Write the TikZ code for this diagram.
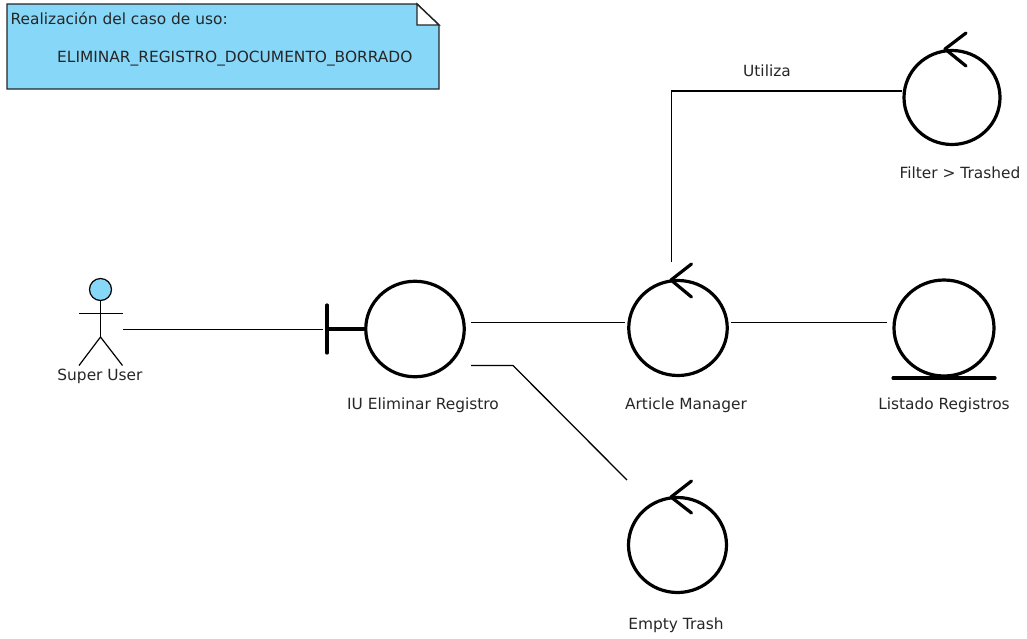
\documentclass[tikz,border=0pt]{standalone}
\usepackage{fontspec}
\usetikzlibrary{shapes.geometric}
\setmainfont{DejaVu Sans}
\definecolor{fillblue}{RGB}{135,215,248}
\tikzset{
  robust/.style n args={2}{ellipse,draw=black,line width=3.2pt,minimum width=#1,minimum height=#2,inner sep=0pt,fill=white},
  glyphline/.style={draw=black,line width=3.2pt,line cap=round},
  conn/.style={draw=black,line width=1.3pt},
  lbl/.style={font=\fontsize{15.4}{18}\selectfont,text=black!85,inner sep=0pt},
  stick/.style={draw=black,line width=1.2pt}
}
\begin{document}
\begin{tikzpicture}[x=1pt,y=-1pt]
\useasboundingbox (0,0) rectangle (1027,638);
% note
\path[fill=fillblue,draw=black!85,line width=1.4pt] (7,4) -- (417,4) -- (439,25) -- (439,89) -- (7,89) -- cycle;
\path[fill=white,draw=black!85,line width=1.4pt] (417,4) -- (417,25) -- (439,25) -- cycle;
\node[lbl,anchor=west] (notetitle) at (10.5,18) {Realización del caso de uso:};
\node[lbl,anchor=west] (notebody) at (57,59) {ELIMINAR\_REGISTRO\_DOCUMENTO\_BORRADO};
% actor
\node[circle,draw=black,fill=fillblue,line width=1.2pt,minimum size=22pt,inner sep=0pt] (actorhead) at (100.5,289.5) {};
\coordinate (hip) at (100.5,337);
\draw[stick] (actorhead.south) -- (hip);
\coordinate (armL) at (79,313.5);
\coordinate (armR) at (122.5,313.5);
\draw[stick] (armL) -- (armR);
\coordinate (legL) at (79,365.5);
\coordinate (legR) at (122.5,365.5);
\draw[stick] (legL) -- (hip) -- (legR);
\node[lbl] (actorlabel) at (100,376) {Super User};
% boundary
\node[robust={98.5pt}{95.5pt}] (iu) at (415,329) {};
\coordinate (barT) at (327,305);
\coordinate (barB) at (327,353);
\coordinate (barM) at (327,329);
\draw[glyphline] (barT) -- (barB);
\draw[glyphline] (barM) -- (iu.west);
\node[lbl] (iulabel) at (423,405) {IU Eliminar Registro};
% article manager
\node[robust={98.5pt}{95pt}] (am) at (678,328) {};
\coordinate (amTip) at (671,280);
\coordinate (amA) at (691.5,264);
\coordinate (amB) at (691.5,297);
\draw[glyphline,line join=round] (amA) -- (amTip) -- (amB);
\node[lbl] (amlabel) at (686,405) {Article Manager};
% filter
\node[robust={96pt}{94pt}] (filter) at (952,97.5) {};
\coordinate (fTip) at (945,49);
\coordinate (fA) at (966,33);
\coordinate (fB) at (966,66);
\draw[glyphline,line join=round] (fA) -- (fTip) -- (fB);
\node[lbl] (filterlabel) at (960,173) {Filter > Trashed};
% listado
\node[robust={100pt}{96pt}] (listado) at (944,328) {};
\coordinate (lL) at (893,378);
\coordinate (lR) at (995,378);
\draw[glyphline] (lL) -- (lR);
\node[lbl] (listlabel) at (944,405) {Listado Registros};
% empty trash
\node[robust={98pt}{95pt}] (trash) at (677.5,545) {};
\coordinate (tTip) at (671,497);
\coordinate (tA) at (691.5,481);
\coordinate (tB) at (691.5,513);
\draw[glyphline,line join=round] (tA) -- (tTip) -- (tB);
\node[lbl] (trashlabel) at (676,625) {Empty Trash};
% connectors
\coordinate (c1a) at (123,329.5);
\coordinate (c1b) at (323,329.5);
\draw[conn] (c1a) -- (c1b);
\coordinate (c2a) at (471,322.5);
\coordinate (c2b) at (625,322.5);
\draw[conn] (c2a) -- (c2b);
\coordinate (c3a) at (731,322.5);
\coordinate (c3b) at (887,322.5);
\draw[conn] (c3a) -- (c3b);
\coordinate (c4a) at (471,365.5);
\coordinate (c4m) at (513,365.5);
\coordinate (c4b) at (627,480);
\draw[conn] (c4a) -- (c4m) -- (c4b);
\coordinate (c5a) at (671.5,262);
\coordinate (c5m) at (671.5,91);
\coordinate (c5b) at (902,91);
\draw[conn] (c5a) -- (c5m) -- (c5b);
\node[lbl] (utiliza) at (767,71) {Utiliza};
\end{tikzpicture}
\end{document}
